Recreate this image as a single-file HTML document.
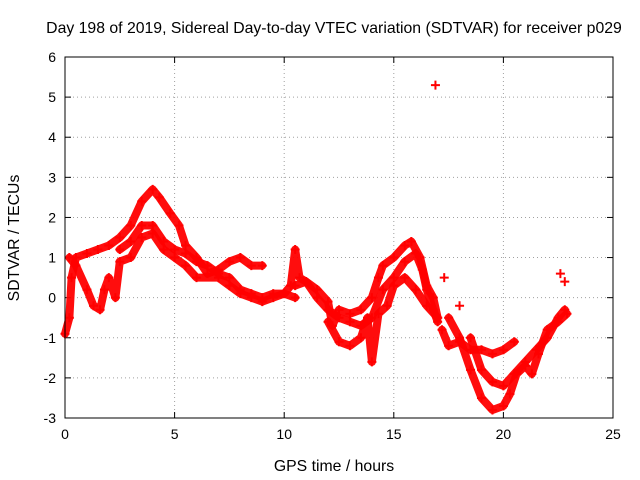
<!DOCTYPE html>
<html><head><meta charset="utf-8"><style>
body{margin:0;background:#fff}
svg{display:block;font-family:"Liberation Sans",sans-serif}
</style></head><body>
<svg id="chart" width="640" height="480">
<rect width="640" height="480" fill="#fff"/>
<text x="334" y="33" font-size="15.8" text-anchor="middle">Day 198 of 2019, Sidereal Day-to-day VTEC variation (SDTVAR) for receiver p029</text>
<g id="grid"></g><g id="ticks"></g><g id="series"></g>
<rect x="65" y="57" width="548" height="361" fill="none" stroke="#000"/>
<text x="334" y="471" font-size="15.8" text-anchor="middle">GPS time / hours</text>
<text transform="translate(19,238) rotate(-90)" font-size="15.8" text-anchor="middle">SDTVAR / TECUs</text>
</svg>
<script>
const xTicks=[0,5,10,15,20,25];
const yTicks=[-3,-2,-1,0,1,2,3,4,5,6];
const track1=[[0,-0.9],[0.2,-0.5],[0.3,0.5],[0.5,1.0],[1,1.1],[1.5,1.2],[2,1.3],[2.5,1.5],[3,1.8],[3.5,2.4],[4,2.7],[4.3,2.5],[4.8,2.1],[5.2,1.8],[5.5,1.3],[6,1.0],[6.5,0.6],[7,0.7],[7.5,0.9],[8,1.0],[8.5,0.8],[9,0.8]];
const track2=[[0.2,1.0],[0.5,0.8],[1,0.2],[1.3,-0.2],[1.6,-0.3],[1.8,0.2],[2,0.5],[2.3,0],[2.5,0.9],[3,1.0],[3.5,1.5],[4,1.6],[4.5,1.2],[5,1.0],[5.5,0.8],[6,0.5],[7,0.5],[7.5,0.3],[8,0.1],[8.5,0],[9,-0.1],[9.5,0],[10,0.1],[10.5,0.0]];
const track3=[[2.5,1.2],[3,1.4],[3.5,1.8],[4,1.8],[4.5,1.4],[5,1.2],[5.5,1.1],[6,0.9],[6.5,0.8],[7,0.6],[7.5,0.5],[8,0.2],[8.5,0.1],[9,0.0],[9.5,0.1],[10,0.1],[10.3,0.3],[10.5,1.2],[10.7,0.5],[11,0.4],[11.5,0.0],[12,-0.3],[12.5,-0.5],[13,-0.6],[13.5,-0.7],[14,-0.5],[14.5,0.2],[15,0.5],[15.5,0.9],[16,1.1],[16.3,0.7],[16.5,0.2],[16.8,-0.3],[17,-0.6]];
const track4=[[10.5,0.3],[11,0.4],[11.5,0.2],[12,-0.1],[12.2,-0.7],[12.5,-0.3],[13,-0.4],[13.5,-0.3],[14,0],[14.3,0.5],[14.5,0.8],[15,1.0],[15.5,1.3],[15.8,1.4],[16.2,1.0],[16.5,0.3],[16.8,0],[17,-0.5]];
const track5=[[12,-0.6],[12.5,-1.1],[13,-1.2],[13.5,-1.0],[13.8,-0.5],[14,-1.6],[14.3,-0.4],[14.7,-0.2],[15,0.3],[15.5,0.5],[16,0.2],[16.5,-0.2],[17,-0.5]];
const track6=[[17.2,-0.8],[17.5,-1.2],[18,-1.1],[18.5,-1.3],[19,-1.3],[19.5,-1.4],[20,-1.3],[20.5,-1.1]];
const track7=[[17.5,-0.5],[18,-1.0],[18.5,-1.8],[19,-2.5],[19.5,-2.8],[20,-2.7],[20.3,-2.4],[20.6,-1.9],[21,-1.7],[21.3,-1.9],[21.6,-1.4],[22,-0.8],[22.5,-0.6],[22.9,-0.4]];
const track8=[[18.5,-1.0],[19,-1.8],[19.5,-2.1],[20,-2.2],[20.5,-1.9],[21,-1.6],[21.5,-1.3],[22,-1.0],[22.5,-0.5],[22.8,-0.3]];
const isolated=[[16.9,5.3],[22.6,0.6],[22.8,0.4],[17.3,0.5],[18,-0.2]];
const tracks=[track1,track2,track3,track4,track5,track6,track7,track8];

const NS="http://www.w3.org/2000/svg";
const X0=65,X1=613,Y0=418,Y1=57;
const xs=v=>X0+(v-0)/(25-0)*(X1-X0);
const ys=v=>Y0-(v+3)/(6+3)*(Y0-Y1);
function mk(tag,attrs,parent){const e=document.createElementNS(NS,tag);for(const k in attrs)e.setAttribute(k,attrs[k]);parent.appendChild(e);return e;}
const grid=document.getElementById('grid'),ticks=document.getElementById('ticks'),ser=document.getElementById('series');
xTicks.forEach(t=>{
  const x=xs(t);
  if(t>0&&t<25){const g=mk('line',{x1:x,x2:x,y1:Y0,y2:Y1,stroke:'#a0a0a0','stroke-dasharray':'1,3'},grid);
  
  }
  mk('line',{x1:x,x2:x,y1:Y0,y2:Y0-6,stroke:'#000'},ticks);
  mk('line',{x1:x,x2:x,y1:Y1,y2:Y1+6,stroke:'#000'},ticks);
  const l=mk('text',{x:x,y:Y0+21,'font-size':14,'text-anchor':'middle'},ticks);l.textContent=t;
  
  
});
yTicks.forEach(t=>{
  const y=ys(t);
  if(t>-3&&t<6){const g=mk('line',{x1:X0,x2:X1,y1:y,y2:y,stroke:'#a0a0a0','stroke-dasharray':'1,3'},grid);
  
  }
  mk('line',{x1:X0,x2:X0+6,y1:y,y2:y,stroke:'#000'},ticks);
  mk('line',{x1:X1,x2:X1-6,y1:y,y2:y,stroke:'#000'},ticks);
  const l=mk('text',{x:X0-9,y:y+5,'font-size':14,'text-anchor':'end'},ticks);l.textContent=t;
  
  
});
function plus(p){
  const x=xs(p[0]),y=ys(p[1]);
  const m=mk('path',{d:`M${x-4.5},${y}H${x+4.5}M${x},${y-4.5}V${y+4.5}`,stroke:'#f00','stroke-width':2},ser);
  
  
}
tracks.forEach(tr=>{
  const pl=mk('polyline',{points:tr.map(p=>xs(p[0])+','+ys(p[1])).join(' '),fill:'none',stroke:'#f00','stroke-width':8,'stroke-linejoin':'round','stroke-linecap':'round','stroke-opacity':0.95},ser);
  
  
  tr.forEach(plus);
});
isolated.forEach(plus);
</script>
</body></html>
